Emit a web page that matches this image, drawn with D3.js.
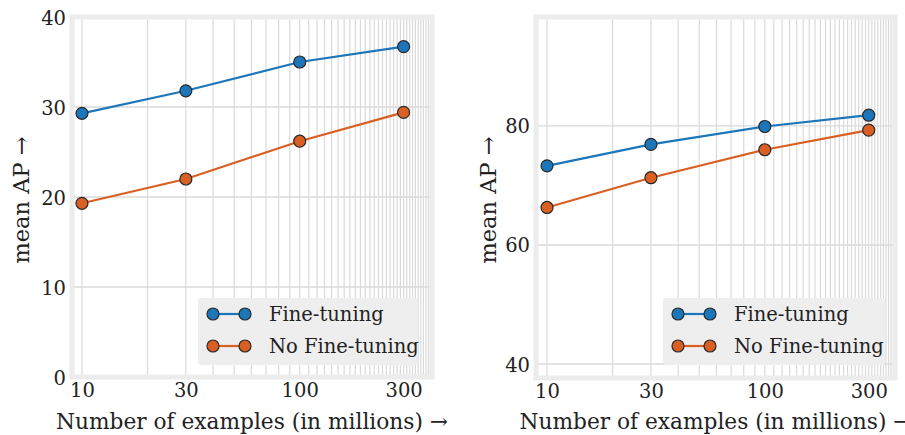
<!DOCTYPE html>
<html>
<head>
<meta charset="utf-8">
<script src="https://cdn.jsdelivr.net/npm/d3@7"></script>
<style>
  body { margin: 0; background: #fff; }
  svg { display: block; }
</style>
</head>
<body>
<script>
// Data
var examples = [10, 30, 100, 300];
var seriesNames = ["Fine-tuning", "No Fine-tuning"];
var leftFineTuning = [29.3, 31.8, 35.0, 36.7];
var leftNoFineTuning = [19.3, 22.0, 26.2, 29.4];
var rightFineTuning = [73.3, 76.9, 79.9, 81.8];
var rightNoFineTuning = [66.3, 71.3, 76.0, 79.3];
var xTickLabels = [10, 30, 100, 300];
var leftYTicks = [0, 10, 20, 30, 40];
var rightYTicks = [40, 60, 80];
var xLabel = "Number of examples (in millions) \u2192";
var yLabel = "mean AP \u2192";

var colors = ["#1b76ba", "#d95f22"];
var serif = "'DejaVu Serif', 'Liberation Serif', serif";

var canvas = d3.select("body").append("svg")
    .attr("width", 905)
    .attr("height", 435);

function drawPanel(p)
{
    var xScale = d3.scaleLog().domain(p.xDomain).range([p.x0, p.x1]);
    var yScale = d3.scaleLinear().domain(p.yDomain).range([p.y1, p.y0]);

    var g = canvas.append("g");

    // vita ytan
    g.append("rect")
        .attr("x", p.x0).attr("y", p.y0)
        .attr("width", p.x1 - p.x0).attr("height", p.y1 - p.y0)
        .attr("fill", "#fff");

    // vertikala rutnätslinjer, var 10:e
    var gridX = d3.range(10, 410, 10).filter(function(d) { return d > p.xDomain[0] && d < p.xDomain[1]; });
    g.selectAll(".vgrid").data(gridX).enter()
        .append("line")
        .attr("x1", function(d) { return xScale(d); })
        .attr("x2", function(d) { return xScale(d); })
        .attr("y1", p.y0).attr("y2", p.y1)
        .attr("stroke", "#dadada")
        .attr("stroke-width", 1.2);

    g.selectAll(".hgrid").data(p.yTicks).enter()
        .append("line")
        .attr("x1", p.x0).attr("x2", p.x1)
        .attr("y1", function(d) { return yScale(d); })
        .attr("y2", function(d) { return yScale(d); })
        .attr("stroke", "#dadada")
        .attr("stroke-width", 1.4);

    // ram
    g.append("rect")
        .attr("x", p.x0).attr("y", p.y0)
        .attr("width", p.x1 - p.x0).attr("height", p.y1 - p.y0)
        .attr("fill", "none")
        .attr("stroke", "#ececec")
        .attr("stroke-width", 5);

    // axlar utan linjer, bara etiketter
    var xAxis = d3.axisBottom(xScale).tickValues(xTickLabels).tickFormat(d3.format("d")).tickSize(0).tickPadding(0);
    var yAxis = d3.axisLeft(yScale).tickValues(p.yTicks).tickSize(0).tickPadding(0);

    var xg = g.append("g").attr("transform", "translate(0," + (p.y1 + 6) + ")").call(xAxis);
    var yg = g.append("g").attr("transform", "translate(" + (p.x0 - 6) + ",0)").call(yAxis);
    [xg, yg].forEach(function(a) {
        a.attr("font-family", serif);
        a.select(".domain").remove();
        a.selectAll("text")
            .attr("font-size", 19.5)
            .attr("fill", "#222");
    });
    yg.selectAll("text").attr("dy", "0.36em");

    // linjer och punkter
    var line = d3.line()
        .x(function(d, i) { return xScale(examples[i]); })
        .y(function(d) { return yScale(d); });

    p.series.forEach(function(values, s) {
        g.append("path")
            .datum(values)
            .attr("d", line)
            .attr("fill", "none")
            .attr("stroke", colors[s])
            .attr("stroke-width", 2.2);
        g.selectAll(".pt" + s).data(values).enter()
            .append("circle")
            .attr("cx", function(d, i) { return xScale(examples[i]); })
            .attr("cy", function(d) { return yScale(d); })
            .attr("r", 6)
            .attr("fill", colors[s])
            .attr("stroke", "#2a2a2a")
            .attr("stroke-width", 1.2);
    });

    // legend
    var lx = p.legendX, ly = 298;
    g.append("rect")
        .attr("x", lx).attr("y", ly)
        .attr("width", p.legendW).attr("height", 67)
        .attr("rx", 3)
        .attr("fill", "#eeeeee");
    seriesNames.forEach(function(name, s) {
        var yy = ly + 16 + s * 32;
        g.append("line")
            .attr("x1", lx + 15).attr("x2", lx + 47)
            .attr("y1", yy).attr("y2", yy)
            .attr("stroke", colors[s]).attr("stroke-width", 2.2);
        [lx + 15, lx + 47].forEach(function(cx) {
            g.append("circle")
                .attr("cx", cx).attr("cy", yy).attr("r", 6)
                .attr("fill", colors[s])
                .attr("stroke", "#2a2a2a").attr("stroke-width", 1.2);
        });
        g.append("text")
            .attr("x", lx + 71).attr("y", yy)
            .attr("dy", "0.35em")
            .attr("font-family", serif)
            .attr("font-size", 19.5)
            .attr("fill", "#222")
            .text(name);
    });

    // axeltitlar
    g.append("text")
        .attr("x", (p.x0 + p.x1) / 2)
        .attr("y", 429)
        .attr("text-anchor", "middle")
        .attr("font-family", serif)
        .attr("font-size", 21.7)
        .attr("fill", "#222")
        .text(xLabel);
    g.append("text")
        .attr("transform", "translate(" + p.yLabelX + ",200) rotate(-90)")
        .attr("text-anchor", "middle")
        .attr("dy", "0.35em")
        .attr("font-family", serif)
        .attr("font-size", 22.5)
        .attr("fill", "#222")
        .text(yLabel);
}

drawPanel({
    x0: 72, x1: 432, y0: 17, y1: 377,
    xDomain: [9.0, 405], yDomain: [0, 40],
    yTicks: leftYTicks,
    series: [leftFineTuning, leftNoFineTuning],
    legendX: 198, legendW: 220,
    yLabelX: 21
});

drawPanel({
    x0: 536, x1: 895, y0: 17, y1: 378,
    xDomain: [8.9, 396], yDomain: [37.65, 98.3],
    yTicks: rightYTicks,
    series: [rightFineTuning, rightNoFineTuning],
    legendX: 663, legendW: 222,
    yLabelX: 488
});
</script>
</body>
</html>
